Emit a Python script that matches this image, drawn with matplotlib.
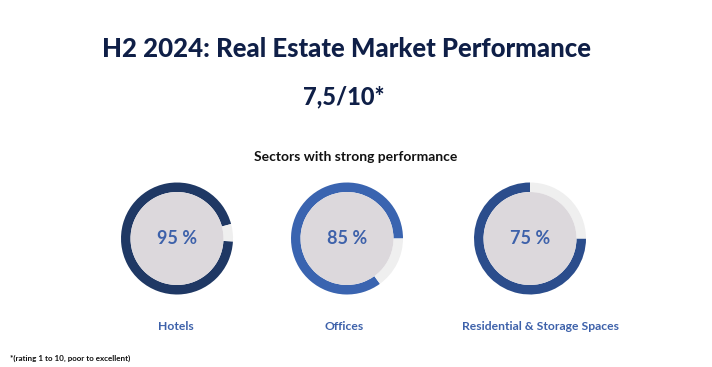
import matplotlib.pyplot as plt
from matplotlib.patches import Circle

# datos del gráfico
sectores = ["Hotels", "Offices", "Residential & Storage Spaces"]
valores = [95, 85, 75]
colores = ["#1F3864", "#3A64B0", "#2B4D8C"]
angulo_inicio = [-3, 0, 0]
sentido_antihorario = [False, True, False]
titulo = "H2 2024: Real Estate Market Performance"
nota_global = "7,5/10*"
subtitulo = "Sectors with strong performance"
pie_nota = "*(rating 1 to 10, poor to excellent)"

W, H = 712, 367
fig = plt.figure(figsize=(W / 100, H / 100), dpi=100)
fig.patch.set_facecolor("white")

fuente = "Lato"
azul_oscuro = "#0F1F47"
azul_texto = "#3D61AA"

# textos de cabecera (coordenadas en píxeles desde arriba)
fig.text(347 / W, 1 - 49 / H, titulo, ha="center", va="center",
         fontsize=18.5, fontweight="black", color=azul_oscuro, family=fuente)
fig.text(344 / W, 1 - 97 / H, nota_global, ha="center", va="center",
         fontsize=17, fontweight="black", color=azul_oscuro, family=fuente)
fig.text(356 / W, 1 - 157 / H, subtitulo, ha="center", va="center",
         fontsize=10, fontweight="bold", color="#111111", family=fuente)
fig.text(10 / W, 1 - 358 / H, pie_nota, ha="left", va="center",
         fontsize=5.8, fontweight="bold", color="#111111", family=fuente)

centros_x = [177, 347, 530]
centro_y = 238.5
radio = 56
etiqueta_x = [176, 344, 541]

for i, sector in enumerate(sectores):
    cx = centros_x[i]
    ax = fig.add_axes([(cx - radio) / W, 1 - (centro_y + radio) / H,
                       2 * radio / W, 2 * radio / H])
    ax.pie([valores[i], 100 - valores[i]], colors=[colores[i], "#EFEFEF"],
           startangle=angulo_inicio[i], counterclock=sentido_antihorario[i],
           radius=1, wedgeprops=dict(width=0.17, linewidth=0))
    ax.add_patch(Circle((0, 0), 0.83, color="#DCD8DC", linewidth=0))
    ax.text(0, 0, f"{valores[i]} %", ha="center", va="center",
            fontsize=13, fontweight="bold", color=azul_texto, family=fuente)
    ax.set_xlim(-1, 1)
    ax.set_ylim(-1, 1)
    ax.set_aspect("equal")
    ax.axis("off")
    fig.text(etiqueta_x[i] / W, 1 - 326 / H, sector, ha="center", va="center",
             fontsize=8.7, fontweight="bold", color=azul_texto, family=fuente)

plt.savefig("out.png", dpi=100)
